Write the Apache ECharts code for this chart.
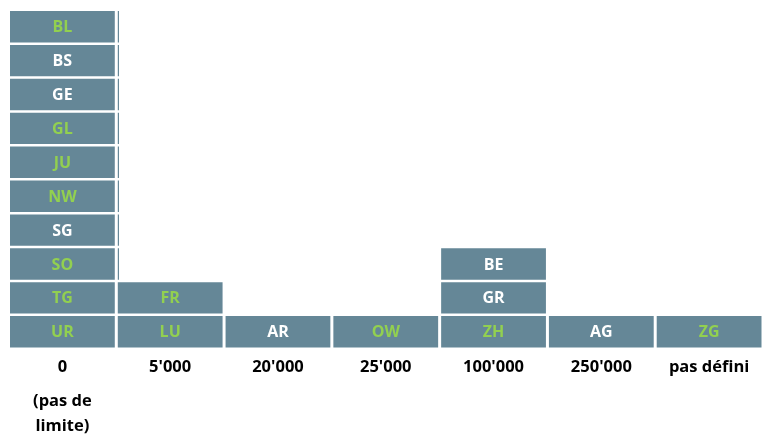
<!DOCTYPE html>
<html>
<head>
<meta charset="utf-8">
<script src="https://cdn.jsdelivr.net/npm/echarts@6/dist/echarts.min.js"></script>
<style>
html,body{margin:0;padding:0;background:#fff;}
#chart{width:763px;height:436px;}
</style>
</head>
<body>
<div id="chart"></div>
<script>
// Categories (x axis tick labels)
var categories = ["0\n(pas de\nlimite)", "5'000", "20'000", "25'000", "100'000", "250'000", "pas défini"];
// Cantons stacked in each column, bottom to top
var col0 = ['UR', 'TG', 'SO', 'SG', 'NW', 'JU', 'GL', 'GE', 'BS', 'BL'];
var col1 = ['LU', 'FR'];
var col2 = ['AR'];
var col3 = ['OW'];
var col4 = ['ZH', 'GR', 'BE'];
var col5 = ['AG'];
var col6 = ['ZG'];
// Cantons whose label is shown in green
var greenCantons = ['UR', 'TG', 'SO', 'NW', 'JU', 'GL', 'BL', 'LU', 'FR', 'OW', 'ZH', 'ZG'];

var columns = [col0, col1, col2, col3, col4, col5, col6];
var data = [];
columns.forEach(function (list, c) {
  list.forEach(function (name, r) {
    data.push([c, r, name, greenCantons.indexOf(name) >= 0 ? 1 : 0]);
  });
});
// slivers: rows where col0 has a block but col1 has none
var slivers = [];
for (var r = col1.length; r < col0.length; r++) slivers.push([1, r]);

var FILL = '#658797';
var GREEN = '#92D050';
var FONT = '"Open Sans", "Liberation Sans", sans-serif';

var chart = echarts.init(document.getElementById('chart'), null, {renderer: 'canvas'});
chart.setOption({
  animation: false,
  grid: {left: 8.5, top: 11, width: 756, bottom: 86, containLabel: false},
  xAxis: {
    type: 'category',
    data: categories,
    axisLine: {show: false},
    axisTick: {show: false},
    splitLine: {show: false},
    axisLabel: {
      interval: 0,
      margin: -4,
      formatter: function (v, i) {
        var parts = v.split('\n');
        var s = '{a|' + parts[0] + '}';
        for (var k = 1; k < parts.length; k++) s += '\n{b|' + parts[k] + '}';
        return s;
      },
      rich: {
        a: {fontFamily: FONT, fontWeight: 'bold', fontSize: 16.5, color: '#000', lineHeight: 43},
        b: {fontFamily: FONT, fontWeight: 'bold', fontSize: 16.5, color: '#000', lineHeight: 25}
      }
    }
  },
  yAxis: {
    type: 'value', min: 0, max: 10, interval: 1,
    show: false, splitLine: {show: false}
  },
  series: [{
    type: 'custom',
    data: data,
    renderItem: function (params, api) {
      var c = api.value(0), r = api.value(1);
      var p0 = api.coord([c, r]);
      var p1 = api.coord([c, r + 1]);
      var bw = api.size([1, 0])[0];
      var x = p0[0] - bw / 2 + 1.5;
      var w = bw - 3;
      var yTop = p1[1];
      var h = p0[1] - p1[1] - 2.5;
      var green = api.value(3) === 1;
      return {
        type: 'group',
        children: [{
          type: 'rect',
          shape: {x: x, y: yTop, width: w, height: h},
          style: {fill: FILL}
        }, {
          type: 'text',
          style: {
            text: data[params.dataIndex][2],
            x: x + w / 2, y: yTop + h / 2 + 1,
            align: 'center', verticalAlign: 'middle',
            fill: green ? GREEN : '#ffffff',
            font: 'bold 16px ' + FONT
          }
        }]
      };
    }
  }, {
    type: 'custom',
    data: slivers,
    silent: true,
    renderItem: function (params, api) {
      var c = api.value(0), r = api.value(1);
      var p0 = api.coord([c, r]);
      var p1 = api.coord([c, r + 1]);
      var bw = api.size([1, 0])[0];
      var x = p0[0] - bw / 2 + 1.5;
      return {
        type: 'rect',
        shape: {x: x, y: p1[1], width: 1.2, height: p0[1] - p1[1] - 2.5},
        style: {fill: FILL}
      };
    }
  }]
});
</script>
</body>
</html>
